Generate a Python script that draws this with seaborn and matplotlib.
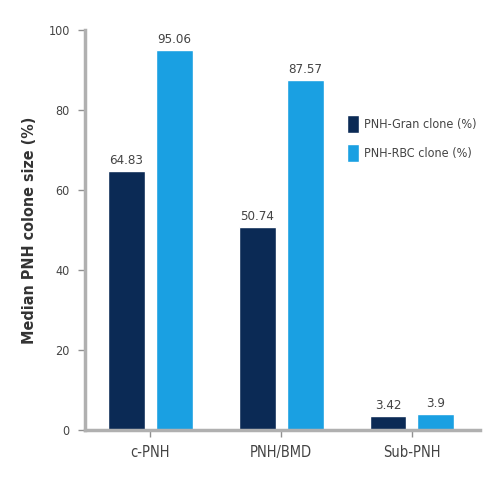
import matplotlib
matplotlib.use("Agg")
import matplotlib.pyplot as plt
import seaborn as sns
import pandas as pd

categories = ["c-PNH", "PNH/BMD", "Sub-PNH"]
series_names = ["PNH-Gran clone (%)", "PNH-RBC clone (%)"]
gran_values = [64.83, 50.74, 3.42]
rbc_values = [95.06, 87.57, 3.9]
value_labels_gran = ["64.83", "50.74", "3.42"]
value_labels_rbc = ["95.06", "87.57", "3.9"]
y_ticks = [0, 20, 40, 60, 80, 100]

df = pd.DataFrame({
    "category": categories * 2,
    "series": [series_names[0]] * 3 + [series_names[1]] * 3,
    "value": gran_values + rbc_values,
})

sns.set_theme(style="white")
plt.rcParams["font.family"] = ["DejaVu Sans"]
plt.rcParams["font.stretch"] = "condensed"

fig = plt.figure(figsize=(5, 5), dpi=100)
ax = fig.add_axes([0.17, 0.14, 0.79, 0.80])

palette = {series_names[0]: "#0b2a55", series_names[1]: "#1aa0e2"}
sns.barplot(data=df, x="category", y="value", hue="series", order=categories,
            hue_order=series_names, palette=palette, width=0.733, gap=0.23,
            saturation=1, ax=ax, errorbar=None)

txt = "#444444"
for cont, labels in zip(ax.containers, [value_labels_gran, value_labels_rbc]):
    ax.bar_label(cont, labels=labels, padding=3, fontsize=9.5, color=txt)

ax.set_ylim(0, 100)
ax.set_xlim(-0.5, 2.52)
ax.set_yticks(y_ticks)
ax.set_yticklabels([str(t) for t in y_ticks], fontsize=9, color=txt)
ax.set_xticks(range(len(categories)))
ax.set_xticklabels(categories, fontsize=10.5, color=txt)
ax.set_xlabel("")
ax.set_ylabel("Median PNH colone size (%)", fontsize=11.5, color="#333333", fontweight="semibold", labelpad=8)

for s in ["top", "right"]:
    ax.spines[s].set_visible(False)
for s in ["left", "bottom"]:
    ax.spines[s].set_color("#b0b0b0")
    ax.spines[s].set_linewidth(2.5)
ax.tick_params(axis="both", which="both", length=5, width=1, color="#909090",
               direction="out", left=True, bottom=True, pad=6)

leg = ax.legend(loc="upper left", frameon=False,
                fontsize=9, handlelength=1.0, handleheight=1.8, handletextpad=0.4,
                labelspacing=0.9, borderaxespad=0)
for t in leg.get_texts():
    t.set_color(txt)
leg.set_bbox_to_anchor((0.65, 0.80), transform=ax.transAxes)

fig.savefig("out.png", dpi=100)
